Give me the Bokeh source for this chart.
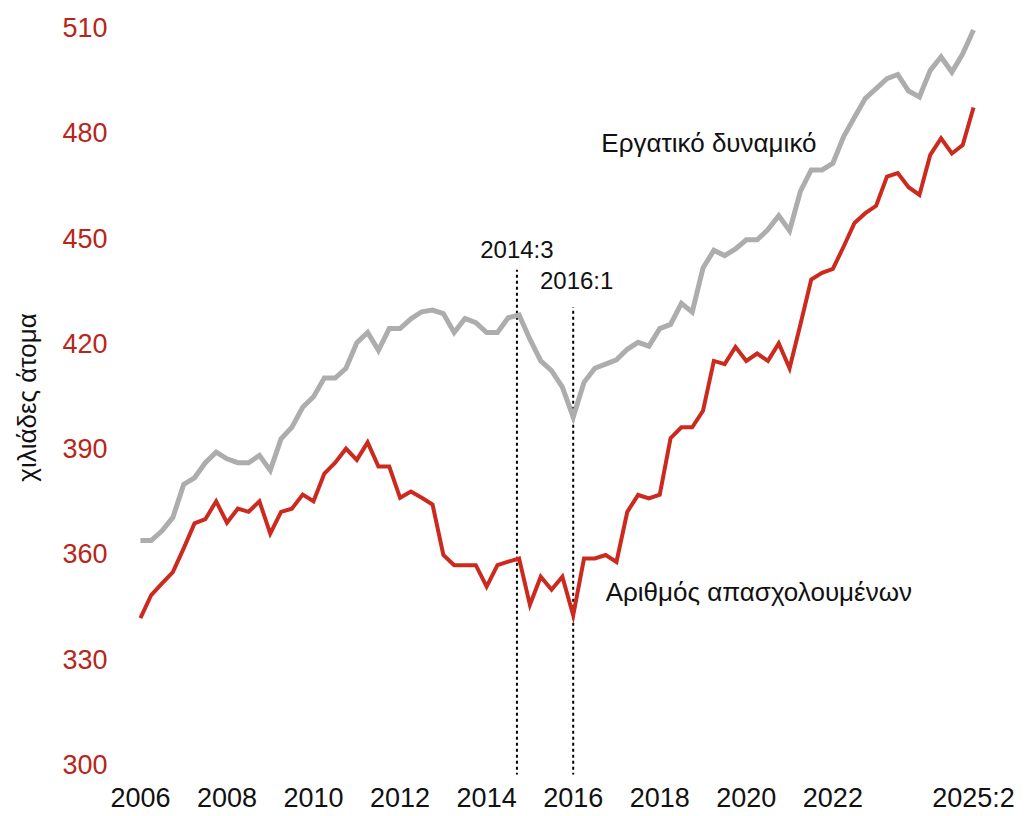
from bokeh.plotting import figure
from bokeh.models import Range1d, FixedTicker, Label
from bokeh.embed import file_html
from bokeh.resources import INLINE

# ---- data (thousand persons, quarterly 2006:1 - 2025:2) ----
quarters = [f"{y}:{q}" for y in range(2006, 2026) for q in range(1, 5)][:78]

labour_force = [
    363.8, 363.8, 366.6, 370.4, 379.8, 381.7, 386.0, 389.0, 387.1, 386.0,
    386.0, 388.1, 383.8, 392.8, 396.1, 401.8, 404.8, 410.1, 410.1, 412.9,
    420.2, 423.1, 418.0, 424.2, 424.2, 427.0, 429.0, 429.5, 428.5, 423.1,
    427.1, 425.9, 423.1, 423.1, 427.3, 428.1, 421.2, 415.0, 412.2, 407.5,
    399.0, 408.9, 412.9, 414.1, 415.3, 418.3, 420.3, 419.2, 424.2, 425.4,
    431.4, 428.9, 441.5, 446.5, 445.0, 446.9, 449.5, 449.5, 452.4, 456.4,
    452.1, 463.3, 469.4, 469.4, 471.3, 478.9, 484.4, 489.8, 492.6, 495.4,
    496.6, 491.9, 490.2, 497.8, 501.6, 497.3, 502.5, 509.3,
]

employed = [
    341.7, 348.3, 351.6, 354.8, 361.6, 368.7, 369.9, 375.0, 368.9, 372.9,
    372.0, 375.0, 365.8, 372.0, 372.9, 376.9, 375.0, 382.9, 386.0, 390.0,
    386.8, 391.8, 384.9, 384.9, 376.0, 377.8, 376.0, 374.1, 359.7, 356.8,
    356.8, 356.8, 350.7, 356.8, 357.8, 358.7, 345.5, 353.5, 349.8, 353.5,
    342.5, 358.7, 358.7, 359.7, 357.7, 372.0, 376.8, 375.8, 376.9, 393.0,
    396.1, 396.1, 400.8, 415.0, 414.1, 419.0, 415.0, 417.1, 415.0, 420.0,
    412.9, 425.4, 438.2, 440.1, 441.2, 447.6, 454.3, 457.1, 459.2, 467.5,
    468.5, 464.5, 462.3, 473.7, 478.4, 474.1, 476.5, 487.2,
]

y_ticks = [300, 330, 360, 390, 420, 450, 480, 510]
x_tick_quarters = ["2006:1", "2008:1", "2010:1", "2012:1", "2014:1",
                   "2016:1", "2018:1", "2020:1", "2022:1", "2025:2"]
x_tick_labels = ["2006", "2008", "2010", "2012", "2014",
                 "2016", "2018", "2020", "2022", "2025:2"]
marker_labels = ["2014:3", "2016:1"]

series_names = ["Εργατικό δυναμικό", "Αριθμός απασχολουμένων"]
y_axis_title = "χιλιάδες άτομα"


def qx(q):
    y, n = q.split(":")
    return int(y) + (int(n) - 1) / 4.0


x = [qx(q) for q in quarters]
x_ticks = [qx(q) for q in x_tick_quarters]

FONT = "Liberation Sans"
RED_LINE = "#CC2A1E"
RED_TEXT = "#B8261A"
GREY = "#ADADAD"

p = figure(width=1024, height=815, output_backend="svg", toolbar_location=None,
           x_range=Range1d(2005.54, 2026.22), y_range=Range1d(297.16, 511.99),
           min_border_left=120, min_border_right=9, min_border_top=20,
           min_border_bottom=38)
p.outline_line_color = None
p.grid.visible = False
p.background_fill_color = "white"
p.border_fill_color = "white"

# dotted marker lines
marker_x = [2014.70, 2016.0]
marker_top = [441.0, 430.3]
p.segment(x0=marker_x, x1=marker_x, y0=[290, 290], y1=marker_top,
          line_color="black", line_width=2, line_dash="3 3")

p.line(x, labour_force, line_color=GREY, line_width=5, line_join="miter")
p.line(x, employed, line_color=RED_LINE, line_width=4, line_join="miter")

# axes
xa = p.xaxis[0]
xa.ticker = FixedTicker(ticks=x_ticks)
xa.major_label_overrides = {t: l for t, l in zip(x_ticks, x_tick_labels)}
xa.axis_line_color = None
xa.major_tick_line_color = None
xa.minor_tick_line_color = None
xa.major_tick_out = 0
xa.major_tick_in = 0
xa.major_label_standoff = 8
xa.major_label_text_font = FONT
xa.major_label_text_font_size = "27px"
xa.major_label_text_color = "#111111"

ya = p.yaxis[0]
ya.ticker = FixedTicker(ticks=y_ticks)
ya.axis_line_color = None
ya.major_tick_line_color = None
ya.minor_tick_line_color = None
ya.major_tick_out = 0
ya.major_tick_in = 0
ya.major_label_standoff = 13
ya.major_label_text_font = FONT
ya.major_label_text_font_size = "27px"
ya.major_label_text_color = RED_TEXT
ya.axis_label = y_axis_title
ya.axis_label_text_font = FONT
ya.axis_label_text_font_size = "26px"
ya.axis_label_text_font_style = "normal"
ya.axis_label_text_color = "#111111"
ya.axis_label_standoff = 17

# annotations
for txt, xx, yy, align, size in [
    (series_names[0], 2016.65, 477.1, "left", "26px"),
    (series_names[1], 2016.75, 349.1, "left", "26px"),
    (marker_labels[0], 2014.70, 446.7, "center", "24px"),
    (marker_labels[1], 2016.08, 437.8, "center", "24px"),
]:
    p.add_layout(Label(x=xx, y=yy, text=txt, text_align=align,
                       text_baseline="middle", text_font=FONT,
                       text_font_size=size, text_color="#111111"))

open("out.html", "w").write(file_html(p, INLINE))
